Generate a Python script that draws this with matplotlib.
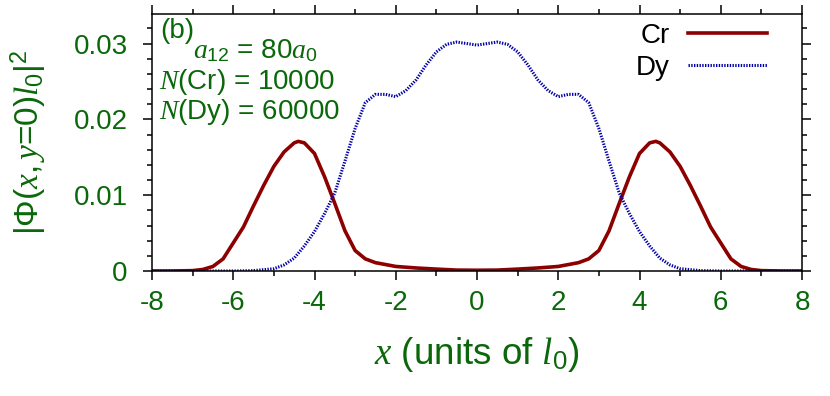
import matplotlib
matplotlib.use("Agg")
import matplotlib.pyplot as plt
from matplotlib.ticker import MultipleLocator, FixedLocator

plt.rcParams['font.family'] = ['Liberation Sans', 'DejaVu Sans']
plt.rcParams['mathtext.fontset'] = 'custom'
plt.rcParams['mathtext.rm'] = 'Liberation Sans'
plt.rcParams['mathtext.it'] = 'Liberation Serif:italic'
plt.rcParams['mathtext.bf'] = 'Liberation Sans:bold'
plt.rcParams['axes.unicode_minus'] = False

# ---- data ----
x_cr = [-8.0, -7.5, -7.0, -6.75, -6.5, -6.25, -6.0, -5.75, -5.5, -5.25, -5.0,
        -4.75, -4.5, -4.4, -4.25, -4.0, -3.75, -3.5, -3.25, -3.0, -2.75, -2.5,
        -2.0, -1.5, -1.0, -0.5, 0.0, 0.5, 1.0, 1.5, 2.0, 2.5, 2.75, 3.0, 3.25,
        3.5, 3.75, 4.0, 4.25, 4.4, 4.5, 4.75, 5.0, 5.25, 5.5, 5.75, 6.0, 6.25,
        6.5, 6.75, 7.0, 7.5, 8.0]
cr = [0.0, 0.0, 0.00005, 0.0002, 0.0006, 0.0016, 0.0037, 0.0058, 0.0086, 0.0113, 0.0138,
      0.0157, 0.0169, 0.0171, 0.0169, 0.0155, 0.0124, 0.0089, 0.0053, 0.0027, 0.0016, 0.0011,
      0.0006, 0.0004, 0.00025, 0.00012, 0.0001, 0.00012, 0.00025, 0.0004, 0.0006, 0.0011,
      0.0016, 0.0027, 0.0053, 0.0089, 0.0124, 0.0155, 0.0169, 0.0171, 0.0169, 0.0157,
      0.0138, 0.0113, 0.0086, 0.0058, 0.0037, 0.0016, 0.0006, 0.0002, 0.00005, 0.0, 0.0]

x_dy = [-8.0, -6.0, -5.5, -5.0, -4.75, -4.5, -4.25, -4.0, -3.75, -3.5, -3.25, -3.0,
        -2.75, -2.5, -2.25, -2.0, -1.75, -1.5, -1.25, -1.0, -0.75, -0.5, -0.25, 0.0,
        0.25, 0.5, 0.75, 1.0, 1.25, 1.5, 1.75, 2.0, 2.25, 2.5, 2.75, 3.0, 3.25, 3.5,
        3.75, 4.0, 4.25, 4.5, 4.75, 5.0, 5.5, 6.0, 8.0]
dy = [0.0, 0.0, 0.00005, 0.0003, 0.0008, 0.0017, 0.0033, 0.0052, 0.0076, 0.0103, 0.0145, 0.0188,
      0.0222, 0.0233, 0.0233, 0.0230, 0.0238, 0.0252, 0.0272, 0.0289, 0.0299, 0.0302, 0.0300, 0.0298,
      0.0300, 0.0302, 0.0299, 0.0289, 0.0272, 0.0252, 0.0238, 0.0230, 0.0233, 0.0233, 0.0222, 0.0188,
      0.0145, 0.0103, 0.0076, 0.0052, 0.0033, 0.0017, 0.0008, 0.0003, 0.00005, 0.0, 0.0]

series_labels = ["Cr", "Dy"]
xticks = [-8, -6, -4, -2, 0, 2, 4, 6, 8]
yticks = [0, 0.01, 0.02, 0.03]
ytick_labels = ["0", "0.01", "0.02", "0.03"]

GREEN = '#0a680a'
W, H = 830, 396
fig = plt.figure(figsize=(W / 100, H / 100), dpi=100)
ax = fig.add_axes([152 / W, 1 - 271 / H, 650 / W, 257 / H])

ax.plot(x_cr, cr, color='#8c0000', lw=2.6, label=series_labels[0], solid_joinstyle='round')
ax.plot(x_dy, dy, color='#0000a8', lw=2.2, linestyle=(0, (0.45, 0.45)), label=series_labels[1])

ax.set_xlim(-8, 8)
ax.set_ylim(0, 0.0339)
ax.xaxis.set_major_locator(FixedLocator(xticks))
ax.xaxis.set_minor_locator(MultipleLocator(1))
ax.yaxis.set_major_locator(FixedLocator(yticks))
ax.yaxis.set_minor_locator(MultipleLocator(0.002))
ax.set_xticklabels([str(t) for t in xticks])
ax.set_yticklabels(ytick_labels)

for s in ax.spines.values():
    s.set_linewidth(1.1)
ax.tick_params(which='both', direction='out', top=True, right=True,
               labelsize=20, labelcolor=GREEN, width=1.1)
ax.tick_params(which='major', length=6.5)
ax.tick_params(which='minor', length=3.6)
ax.tick_params(axis='x', pad=7)
ax.tick_params(axis='y', pad=11)

ax.set_xlabel(r'$x$ (units of $l_0$)', fontsize=26.5, color=GREEN, labelpad=14)
ax.set_ylabel(r'$|$Φ$(x,y$=0$)l_0|^2$', fontsize=24, color=GREEN, labelpad=18)

leg = ax.legend(loc='upper right', bbox_to_anchor=(0.946, 0.965), frameon=False,
                markerfirst=False, fontsize=20, handlelength=2.85, handletextpad=0.65,
                labelspacing=0.2, borderaxespad=0.0, borderpad=0.0)

def ftxt(px, py, s, **kw):
    fig.text(px / W, 1 - py / H, s, color=GREEN, fontsize=20, va='center', ha='left', **kw)

ftxt(160, 31, '(b)')
ftxt(193, 51, r'$a_{12}$ = 80$a_0$')
ftxt(159, 82, r'$N$(Cr) = 10000')
ftxt(159, 112, r'$N$(Dy) = 60000')

fig.savefig('out.png', dpi=100)
